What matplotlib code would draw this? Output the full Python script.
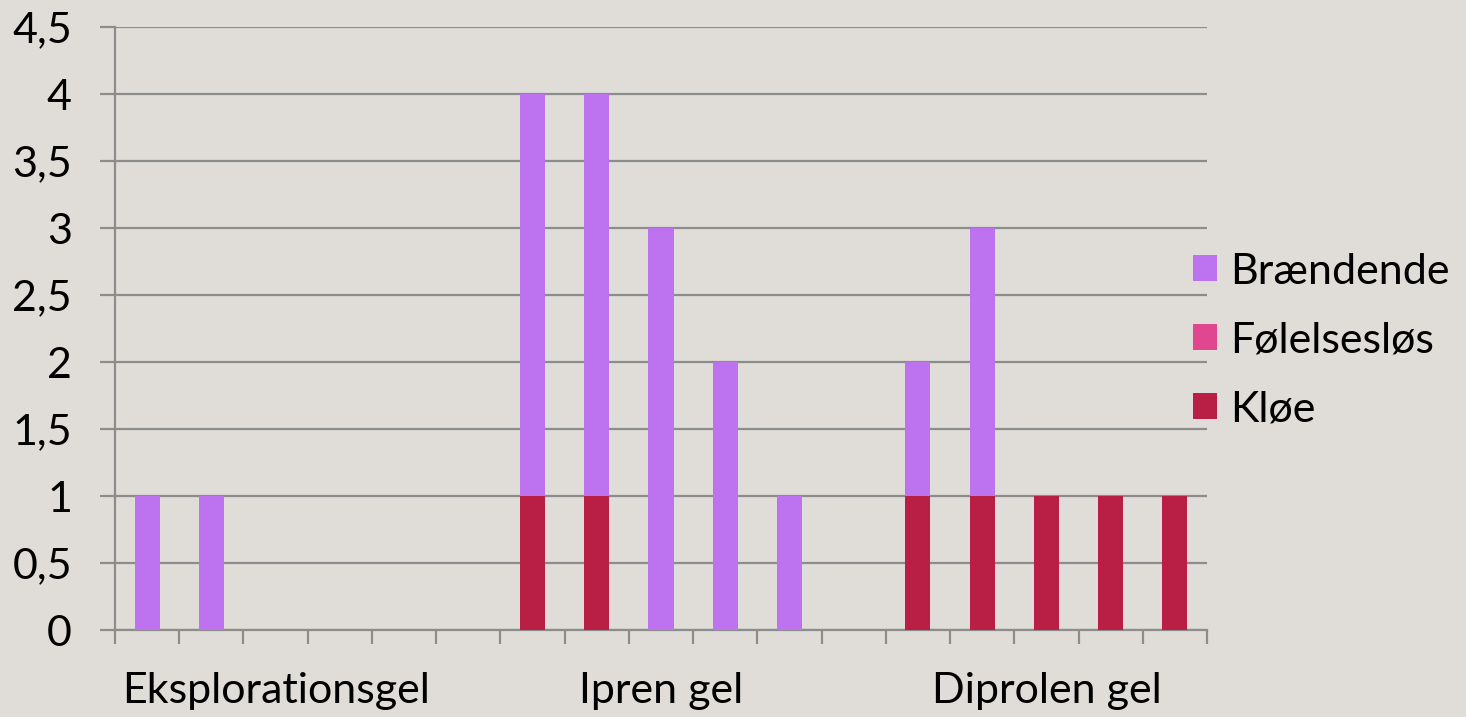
import numpy as np
import matplotlib.pyplot as plt

# =============================================================================
# DATA
# =============================================================================
slot_labels = ['', '', 'Eksplorationsgel', '', '', '',
               '', '', 'Ipren gel', '', '', '',
               '', '', 'Diprolen gel', '', '']
kloe        = [0, 0, 0, 0, 0, 0, 1, 1, 0, 0, 0, 0, 1, 1, 1, 1, 1]
folelseslos = [0, 0, 0, 0, 0, 0, 0, 0, 0, 0, 0, 0, 0, 0, 0, 0, 0]
braendende  = [1, 1, 0, 0, 0, 0, 3, 3, 3, 2, 1, 0, 1, 2, 0, 0, 0]
yticks      = [0, 0.5, 1, 1.5, 2, 2.5, 3, 3.5, 4, 4.5]
ytick_text  = ['0', '0,5', '1', '1,5', '2', '2,5', '3', '3,5', '4', '4,5']

c_braend = '#bd72ef'
c_folel  = '#e0478e'
c_kloe   = '#b91e45'
bg       = '#e0ddd8'
gridc    = '#8c8c8c'

plt.rcParams['font.family'] = ['Lato', 'DejaVu Sans']

fig = plt.figure(figsize=(14.66, 7.17), dpi=100, facecolor=bg)
ax = fig.add_axes([115/1466, 1 - 630/717, (1207-115)/1466, (630-27)/717])
ax.set_facecolor('none')

x = np.arange(len(kloe))
w = 0.39
kl = np.array(kloe); fo = np.array(folelseslos); br = np.array(braendende)
ax.bar(x, kl, w, color=c_kloe, label='Kløe', zorder=3)
ax.bar(x, fo, w, bottom=kl, color=c_folel, label='Følelsesløs', zorder=3)
ax.bar(x, br, w, bottom=kl + fo, color=c_braend, label='Brændende', zorder=3)

ax.set_xlim(-0.5, len(kloe) - 0.5)
ax.set_ylim(0, 4.5)
ax.set_yticks(yticks)
ax.set_yticklabels(ytick_text)
ax.yaxis.grid(True, color=gridc, lw=1.6, zorder=0)
ax.set_xticks(x)
ax.set_xticklabels(slot_labels)
ax.set_xticks(np.arange(len(kloe) + 1) - 0.5, minor=True)
ax.tick_params(axis='x', which='major', length=0, pad=30, labelsize=31)
ax.tick_params(axis='x', which='minor', length=10, width=1.6, color=gridc)
ax.tick_params(axis='y', length=11, width=1.6, color=gridc, labelsize=31, pad=20)

for s in ['top', 'right']:
    ax.spines[s].set_visible(False)
for s in ['left', 'bottom']:
    ax.spines[s].set_color(gridc)
    ax.spines[s].set_linewidth(1.6)

handles, labels = ax.get_legend_handles_labels()
leg = ax.legend(handles[::-1], labels[::-1], loc='center left', bbox_to_anchor=(0.987, 0.48),
                frameon=False, fontsize=31, handlelength=0.56, handleheight=0.56,
                handletextpad=0.3, labelspacing=0.72, borderaxespad=0.0, borderpad=0.0)

fig.savefig('out.png', dpi=100, facecolor=bg)
